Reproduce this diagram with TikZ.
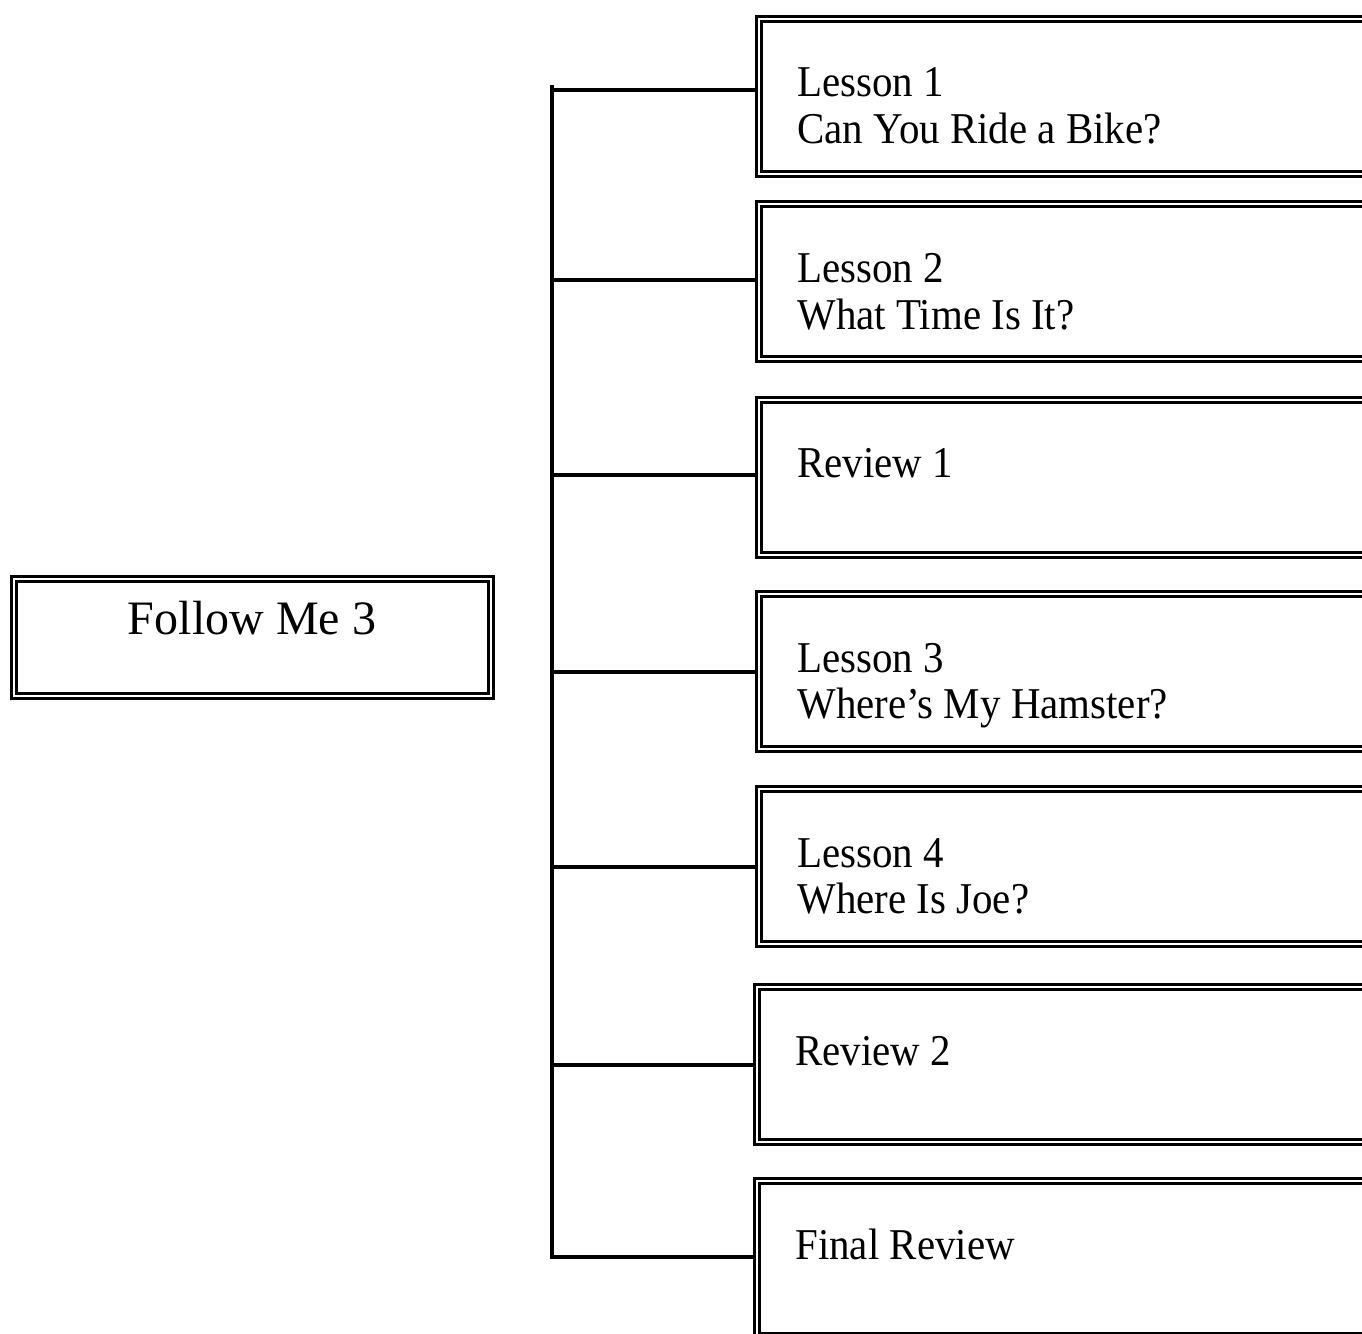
\documentclass[tikz,border=0pt]{standalone}
\usepackage{fontspec}
\setmainfont{Liberation Serif}
\newfontfamily\hakofont[FakeStretch=0.93]{Liberation Serif}
\usetikzlibrary{positioning}

\tikzset{
  waku/.style={draw, double, double distance=1.4pt, line width=1.3pt, rectangle, inner sep=0pt, outer sep=2pt, anchor=north west, minimum width=350pt, minimum height=77.5pt},
  midasi/.style={anchor=base west, inner sep=0pt, font=\hakofont\fontsize{22}{23}\selectfont},
  sen/.style={line width=1.65pt}
}

\begin{document}
\begin{tikzpicture}[x=0.5pt,y=-0.5pt]
           \useasboundingbox (0,0) rectangle (1362,1334);
           \clip (0,0) rectangle (1362,1334);
           % 左の枠
           \node[waku, minimum width=238.5pt, minimum height=58.5pt] (fm) at (10,575) {};
           \node[anchor=base, inner sep=0pt, font=\fontsize{24}{26}\selectfont] (fmt) at (252,634) {Follow Me 3};
           % 右の枠
           \node[waku] (b1) at (755,15) {};
           \node[waku] (b2) at (755,200) {};
           \node[waku] (b3) at (755,396) {};
           \node[waku] (b4) at (755,590) {};
           \node[waku] (b5) at (755,785) {};
           \node[waku] (b6) at (753,983) {};
           \node[waku] (b7) at (753,1177) {};
           % 文字
           \node[midasi] (t1) at (797,96) {Lesson 1};
           \node[midasi] (s1) at (797,143) {Can You Ride a Bike?};
           \node[midasi] (t2) at (797,282) {Lesson 2};
           \node[midasi] (s2) at (797,329) {What Time Is It?};
           \node[midasi] (t3) at (797,477) {Review 1};
           \node[midasi] (t4) at (797,672) {Lesson 3};
           \node[midasi] (s4) at (797,718) {Where’s My Hamster?};
           \node[midasi] (t5) at (797,867) {Lesson 4};
           \node[midasi] (s5) at (797,913) {Where Is Joe?};
           \node[midasi] (t6) at (795,1065) {Review 2};
           \node[midasi] (t7) at (795,1259) {Final Review};
           % 分岐点
           \coordinate (top) at (552,85);
           \coordinate (j1) at (552,90);
           \coordinate (j2) at (552,280);
           \coordinate (j3) at (552,475);
           \coordinate (j4) at (552,672);
           \coordinate (j5) at (552,867);
           \coordinate (j6) at (552,1065);
           \coordinate (j7) at (552,1257);
           % 線
           \draw[sen] (top) -- (j7) -- (j7 -| b7.west); %縦線
           \draw[sen] (j1) -- (j1 -| b1.west);
           \draw[sen] (j2) -- (j2 -| b2.west);
           \draw[sen] (j3) -- (j3 -| b3.west);
           \draw[sen] (j4) -- (j4 -| b4.west);
           \draw[sen] (j5) -- (j5 -| b5.west);
           \draw[sen] (j6) -- (j6 -| b6.west);
\end{tikzpicture}
\end{document}
